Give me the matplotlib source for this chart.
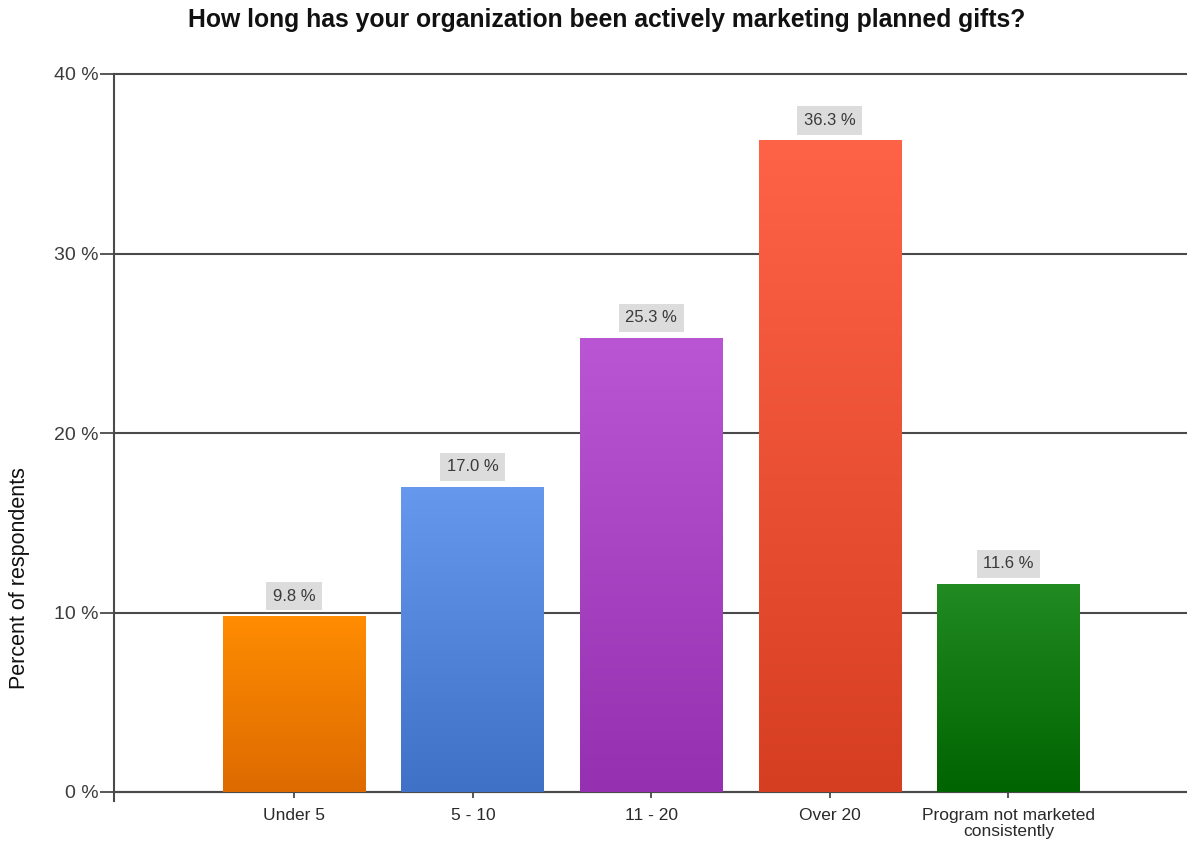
import numpy as np
import matplotlib
matplotlib.use("Agg")
import matplotlib.pyplot as plt
from matplotlib.colors import LinearSegmentedColormap

plt.rcParams['font.family'] = ['Liberation Sans', 'DejaVu Sans']

categories = ["Under 5", "5 - 10", "11 - 20", "Over 20", "Program not marketed\nconsistently"]
values = [9.8, 17.0, 25.3, 36.3, 11.6]
top_colors = ["#FF8C00", "#6699EE", "#BA55D3", "#FF6347", "#228B22"]
bottom_colors = ["#DD6A00", "#3F71C6", "#9530B0", "#D63E22", "#006400"]
y_ticks = [0, 10, 20, 30, 40]
y_tick_labels = ["0 %", "10 %", "20 %", "30 %", "40 %"]

fig = plt.figure(figsize=(11.87, 8.44), dpi=100)
ax = fig.add_axes([114 / 1187, 1 - 792 / 844, 1 - 114 / 1187, (792 - 74) / 844])

x = np.arange(len(categories))
bars = ax.bar(x, values, width=0.8, color="none", zorder=3)

# vertical gradient fill for each bar, clipped to the bar rectangle
grad = np.linspace(0, 1, 256).reshape(-1, 1)
for bar, c_top, c_bot in zip(bars, top_colors, bottom_colors):
    cmap = LinearSegmentedColormap.from_list("g", [c_bot, c_top])
    x0, y0 = bar.get_x(), bar.get_y()
    w, h = bar.get_width(), bar.get_height()
    im = ax.imshow(grad, cmap=cmap, aspect="auto", origin="lower",
                   extent=(x0, x0 + w, y0, y0 + h), zorder=3, interpolation="bilinear")
    im.set_clip_path(bar)

# value labels in light grey boxes above each bar
for xi, v in zip(x, values):
    ax.annotate(f"{v:.1f} %", xy=(xi, v), xytext=(0, 9), textcoords="offset points",
                ha="center", va="bottom", fontsize=12, color="#3A3A3A",
                bbox=dict(boxstyle="square,pad=0.4", fc="#DCDCDC", ec="none"),
                zorder=5)

ax.set_xlim(-1.01, 5.0)
ax.set_ylim(0, 40)
ax.set_yticks(y_ticks)
ax.set_yticklabels(y_tick_labels)
ax.set_xticks(x)
ax.set_xticklabels(categories, linespacing=1.1)

ax.yaxis.grid(True, color="#4A4A4A", linewidth=1.5, zorder=1)
for gl in ax.get_ygridlines():
    gl.set_clip_on(False)
ax.set_axisbelow(True)

for side in ("top", "right"):
    ax.spines[side].set_visible(False)
ax.spines["left"].set_color("#4A4A4A")
ax.spines["left"].set_linewidth(1.5)
ax.spines["left"].set_bounds(-0.5, 40)
ax.spines["bottom"].set_color("#4A4A4A")
ax.spines["bottom"].set_linewidth(1.5)

ax.tick_params(axis="y", length=10, width=1.3, color="#4A4A4A", labelsize=14,
               labelcolor="#3C3C3C", pad=1)
ax.tick_params(axis="x", length=4.5, width=1.3, color="#4A4A4A", labelsize=12.5,
               labelcolor="#2A2A2A", pad=7)

fig.text(20 / 1187, 1 - 578 / 844, "Percent of respondents", rotation=90,
         ha="center", va="center", fontsize=15.5, color="#111111")
fig.text(607 / 1187, 1 - 20 / 844,
         "How long has your organization been actively marketing planned gifts?",
         ha="center", va="center", fontsize=17.8, fontweight="bold", color="#111111")

fig.savefig("out.png", dpi=100)
